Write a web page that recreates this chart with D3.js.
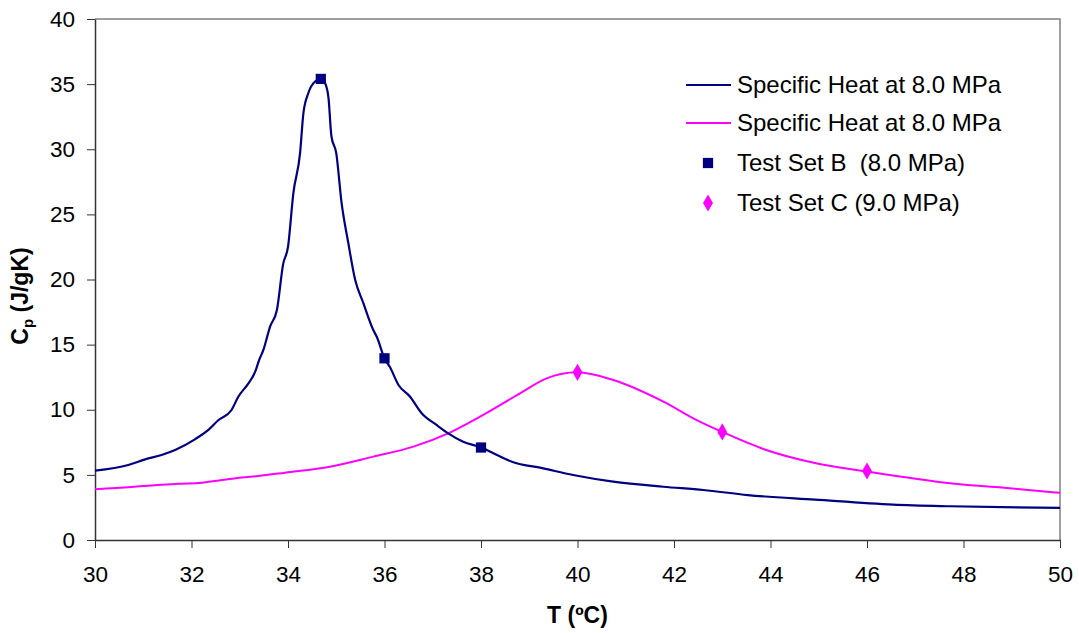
<!DOCTYPE html>
<html>
<head>
<meta charset="utf-8">
<script src="https://cdn.jsdelivr.net/npm/d3@7"></script>
<style>
  html, body { margin: 0; padding: 0; background: #fff; }
  svg { display: block; font-family: "Liberation Sans", Arial, sans-serif; }
  text { white-space: pre; }
</style>
</head>
<body>
<svg id="chart" width="1079" height="633"></svg>
<script>
// Specific heat of CO2 near the pseudo-critical point
const tempB = [30, 30.69, 31.04, 31.38, 31.66, 32.07, 32.35, 32.56, 32.83, 32.97, 33.18, 33.32, 33.4, 33.49,
  33.63, 33.77, 33.9, 34.0, 34.11, 34.25, 34.32, 34.42, 34.56, 34.68, 34.77, 34.84, 34.9, 35.0, 35.11,
  35.25, 35.39, 35.56, 35.77, 35.84, 36.0, 36.11, 36.29, 36.53, 36.77, 37.08, 37.32, 37.63, 38.0, 38.33,
  38.64, 39.29, 39.91, 40.74, 41.78, 42.61, 43.53, 44.92, 46.54, 47.72, 50];
const cpB = [5.32, 5.76, 6.19, 6.53, 6.91, 7.73, 8.45, 9.21, 9.98, 11.0, 12.03, 12.92, 13.8, 14.6,
  16.4, 17.66, 21.2, 22.5, 26.6, 29.7, 32.8, 34.3, 35.2, 35.4, 35.06, 33.9, 31.0, 29.7, 25.9,
  22.8, 20.0, 18.2, 16.1, 15.6, 13.95, 13.3, 11.9, 11.0, 9.73, 8.83, 8.19, 7.55, 7.11, 6.53,
  6.01, 5.5, 4.99, 4.48, 4.09, 3.84, 3.45, 3.1, 2.72, 2.59, 2.46];

const tempC = [30, 30.62, 31.24, 31.73, 32.21, 32.63, 33.04, 33.38, 33.94, 34.87, 35.77, 36.6, 37.32,
  37.98, 38.81, 39.36, 40.0, 40.74, 41.78, 42.47, 43.0, 43.88, 44.92, 46.0, 47.72, 49.12, 50];
const cpC = [3.89, 4.04, 4.2, 4.32, 4.4, 4.6, 4.79, 4.91, 5.17, 5.63, 6.4, 7.17, 8.19,
  9.47, 11.26, 12.41, 12.87, 12.28, 10.62, 9.21, 8.3, 6.95, 5.91, 5.25, 4.35, 3.92, 3.62];

// Measured test points
const testBT = [34.68, 36, 38];
const testBCp = [35.4, 13.95, 7.1];
const testCT = [40, 43, 46];
const testCCp = [12.87, 8.3, 5.3];

const xTicks = [30, 32, 34, 36, 38, 40, 42, 44, 46, 48, 50];
const yTicks = [0, 5, 10, 15, 20, 25, 30, 35, 40];

const legendLabels = ["Specific Heat at 8.0 MPa", "Specific Heat at 8.0 MPa", "Test Set B  (8.0 MPa)", "Test Set C (9.0 MPa)"];

const navy = "#000080", magenta = "#FF00FF";

const svg = d3.select("#chart");
const plotL = 95, plotR = 1060, plotT = 19, plotB = 540;

const x = d3.scaleLinear().domain([30, 50]).range([plotL, plotR]);
const y = d3.scaleLinear().domain([0, 40]).range([plotB, plotT]);

// plot frame (top and right edges)
svg.append("path")
  .attr("d", `M${plotL},${plotT}H${plotR}V${plotB}`)
  .attr("fill", "none").attr("stroke", "#808080").attr("stroke-width", 1.5);

// axes
const xAxis = svg.append("g").attr("transform", `translate(0,${plotB})`)
  .call(d3.axisBottom(x).tickValues(xTicks).tickSize(8).tickSizeOuter(0).tickPadding(18));
const yAxis = svg.append("g").attr("transform", `translate(${plotL},0)`)
  .call(d3.axisLeft(y).tickValues(yTicks).tickSize(8).tickSizeOuter(0).tickPadding(12));
[xAxis, yAxis].forEach(g => {
  g.select(".domain").attr("stroke", "#333").attr("stroke-width", 1.5);
  g.selectAll(".tick line").attr("stroke", "#333").attr("stroke-width", 1);
  g.selectAll(".tick text").attr("fill", "#000").attr("font-size", 22.5)
    .attr("font-family", "Liberation Sans, Arial, sans-serif");
});

// curves
const line = d3.line().x(d => x(d[0])).y(d => y(d[1])).curve(d3.curveMonotoneX);
svg.append("path").datum(d3.zip(tempC, cpC)).attr("d", line)
  .attr("fill", "none").attr("stroke", magenta).attr("stroke-width", 2);
svg.append("path").datum(d3.zip(tempB, cpB)).attr("d", line)
  .attr("fill", "none").attr("stroke", navy).attr("stroke-width", 2.2);

// markers
const sq = d3.symbol().type(d3.symbolSquare).size(105);
const dia = d3.symbol().type(d3.symbolDiamond).size(85);
svg.append("g").selectAll("path").data(d3.zip(testBT, testBCp)).join("path")
  .attr("d", sq).attr("transform", d => `translate(${x(d[0])},${y(d[1])})`).attr("fill", navy);
svg.append("g").selectAll("path").data(d3.zip(testCT, testCCp)).join("path")
  .attr("d", dia).attr("transform", d => `translate(${x(d[0])},${y(d[1])})`).attr("fill", magenta);

// axis titles
svg.append("text").attr("x", (plotL + plotR) / 2).attr("y", 623)
  .attr("text-anchor", "middle").attr("font-size", 23).attr("font-weight", "bold")
  .text("T (ºC)");
const yt = svg.append("text").attr("transform", "translate(28,296) rotate(-90)")
  .attr("text-anchor", "middle").attr("font-size", 23).attr("font-weight", "bold");
yt.append("tspan").text("C");
yt.append("tspan").attr("font-size", 15).attr("dy", 5).text("p");
yt.append("tspan").attr("dy", -5).text(" (J/gK)");

// legend
const lg = svg.append("g");
const rowY = [85, 123, 163, 203];
legendLabels.forEach((lab, i) => {
  const ry = rowY[i];
  if (i < 2) {
    lg.append("line").attr("x1", 686).attr("x2", 731).attr("y1", ry).attr("y2", ry)
      .attr("stroke", i === 0 ? navy : magenta).attr("stroke-width", 2);
  } else {
    lg.append("path").attr("d", i === 2 ? sq : dia)
      .attr("transform", `translate(708,${ry})`).attr("fill", i === 2 ? navy : magenta);
  }
  lg.append("text").attr("x", 737).attr("y", ry + 8).attr("font-size", 24).attr("fill", "#000").text(lab);
});
</script>
</body>
</html>
